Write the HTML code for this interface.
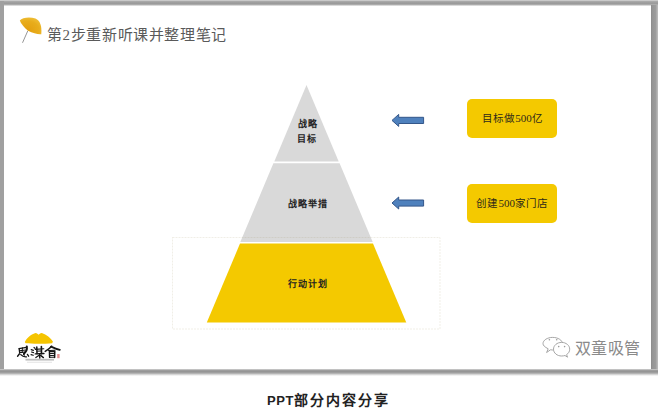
<!DOCTYPE html>
<html lang="zh-CN"><head><meta charset="utf-8">
<style>
html,body{margin:0;padding:0;background:#fff;width:658px;height:417px;overflow:hidden}
body{position:relative;font-family:"Liberation Sans",sans-serif}
.abs{position:absolute}
#frame-top{left:0;top:0;width:658px;height:6px;background:linear-gradient(#e4e4e4 0,#b0b0b0 1px,#a2a2a2 2px,#999 4px,#bdbdbd 5px,#f6f6f6 6px)}
#frame-left{left:0;top:1px;width:4px;height:371px;background:#a0a0a0}
#frame-right{left:651px;top:5px;width:7px;height:368px;background:linear-gradient(90deg,#8a8a8a 0,#959595 1.5px,#9c9c9c 4.5px,#b8b8b8 6.5px,#c4c4c4 7px)}
#frame-bottom{left:0;top:369px;width:658px;height:7px;background:linear-gradient(#d4d4d4 0,#9d9d9d 1.5px,#959595 2.5px,#a4a4a4 4px,#d6d6d6 5.5px,#fff 7px)}
#slide{left:4px;top:6px;width:647px;height:363px;background:#fff}
.title{left:47px;top:25.2px;font-family:"Liberation Serif",serif;font-size:15px;letter-spacing:0.6px;color:#5a5a5a;font-weight:300;white-space:nowrap;line-height:20px}
.lbl{font-family:"Liberation Serif",serif;font-size:9px;letter-spacing:1px;text-indent:1px;font-weight:bold;color:#222;white-space:nowrap;line-height:15px;text-align:center}
.box{left:467px;width:90px;height:39px;border-radius:5px;background:#f4c900;color:#2f2a1a;font-family:"Liberation Serif",serif;font-size:10.5px;letter-spacing:1.1px;text-indent:0.6px;line-height:39px;text-align:center;white-space:nowrap}
.cap{left:267px;top:390px;white-space:nowrap;font-weight:bold;font-size:14px;color:#222;line-height:20px}
.wm{left:574.5px;top:339px;font-size:16px;letter-spacing:0.6px;color:#8a8a8a;font-weight:300;line-height:20px;white-space:nowrap}
</style></head><body>
<div id="frame-top" class="abs"></div>
<div id="frame-left" class="abs"></div>
<div id="frame-right" class="abs"></div>
<div id="frame-bottom" class="abs"></div>
<div id="slide" class="abs"></div>

<svg class="abs" style="left:0;top:0" width="658" height="417" viewBox="0 0 658 417">
  <!-- ginkgo leaf -->
  <defs>
    <radialGradient id="lg" cx="0.35" cy="0.75" r="0.9">
      <stop offset="0" stop-color="#e39f0e"/>
      <stop offset="0.6" stop-color="#e8ad1c"/>
      <stop offset="1" stop-color="#f2c642"/>
    </radialGradient>
  </defs>
  <path d="M27.8 30.8 L22.5 42.8" stroke="#8a8a8a" stroke-width="0.9" fill="none"/>
  <path d="M19.8 20.5 C22 17.5 30 16.5 35.5 18.6 C40 20.5 42 26 41.3 34.2 C38 34.6 33 33.2 28 30.8 C24 27.5 21 23.5 19.8 20.5 Z" fill="url(#lg)"/>
  <!-- selection box -->
  <!-- pyramid -->
  <polygon points="306.5,85 338.7,161.4 274.3,161.4" fill="#d9d9d9"/>
  <polygon points="273.4,163.3 339.6,163.3 372.7,242.1 240.3,242.1" fill="#d9d9d9"/>
  <polygon points="240,243.6 373,243.6 406.3,322.6 206.8,322.6" fill="#f4c900"/>
  <rect x="172.5" y="237.5" width="267.5" height="91.5" fill="none" stroke="rgba(140,120,70,0.13)" stroke-width="1" stroke-dasharray="2 1"/>
  <!-- arrows -->
  <path d="M392 120.4 L398.7 114.4 L398.7 117.3 L423.6 117.3 L423.6 123.5 L398.7 123.5 L398.7 126.4 Z" fill="#4f81bd" stroke="#34578a" stroke-width="1"/>
  <path d="M392 203 L398.7 197 L398.7 200 L423.6 200 L423.6 206.1 L398.7 206.1 L398.7 209 Z" fill="#4f81bd" stroke="#34578a" stroke-width="1"/>
  <!-- logo -->
  <path d="M24.8 342 C26.5 338 30.5 334.5 35.5 332.9 C37 333 38 333.9 38.6 334.7 C39.2 333.9 40.2 333 41.8 332.9 C46.5 334.5 50.8 338 52.9 341.6 L52.2 343.2 C45 343.9 32 343.9 25.6 343.3 Z" fill="#f5c400"/>
  <rect x="57.2" y="354" width="2.4" height="4.2" fill="#d77" opacity="0.8"/>
  <rect x="25.5" y="358.8" width="28.5" height="1.8" fill="#8a8a8a" opacity="0.55"/><rect x="27" y="361.8" width="25" height="0.8" fill="#bbb" opacity="0.5"/>
  <!-- wechat icon -->
  <g fill="#fff" stroke="#9c9c9c" stroke-width="0.9">
    <path d="M546.6 352.5 L548.2 348.8 C544.6 347 543 345.3 543 343.7 C543 340.2 547.3 337.4 552.7 337.4 C558.1 337.4 562.4 340.2 562.4 343.7 C562.4 347.2 558.1 350 552.7 350 L550.5 349.8 Z"/>
    <path d="M567.5 357.2 L566.6 354.6 C568.6 353.3 569.7 351.4 569.7 349.2 C569.7 345.4 566.1 342.4 561.6 342.4 C557.1 342.4 553.5 345.4 553.5 349.2 C553.5 353 557.1 356 561.6 356 C562.8 356 564 355.8 565 355.5 Z"/>
  </g>
  <g fill="#9c9c9c">
    <circle cx="549.4" cy="339.8" r="0.8"/><circle cx="556.7" cy="339.8" r="0.8"/>
    <circle cx="558.7" cy="346.6" r="0.8"/><circle cx="564.6" cy="346.6" r="0.8"/>
  </g>
</svg>

<div class="abs title">第<span style="font-family:'Liberation Serif'">2</span>步重新听课并整理笔记</div>
<div class="abs lbl" style="left:287px;top:116.7px;width:40px">战略<br>目标</div>
<div class="abs lbl" style="left:277px;top:197px;width:60px">战略举措</div>
<div class="abs lbl" style="left:277px;top:277.3px;width:60px">行动计划</div>
<div class="abs box" style="top:98.5px">目标做<span style="font-family:'Liberation Serif';font-size:11px;letter-spacing:0">500</span>亿</div>
<div class="abs box" style="top:183.5px">创建<span style="font-family:'Liberation Serif';font-size:11px;letter-spacing:0">500</span>家门店</div>
<svg class="abs" style="left:0;top:0" width="80" height="417" viewBox="0 0 80 417">
  <g fill="none" stroke="#151515" stroke-linecap="round" stroke-linejoin="round">
    <!-- 思 -->
    <path d="M19 348.6 L26.5 347.3" stroke-width="1.3"/>
    <path d="M26.8 346.5 C27.2 349 26 352 24 353.6" stroke-width="2"/>
    <path d="M19.2 348.8 L19.6 352.4" stroke-width="1.3"/>
    <path d="M19.5 350.8 L25.5 350" stroke-width="1.1"/>
    <path d="M19.6 352.6 L25 352" stroke-width="1.1"/>
    <path d="M22.4 347.8 L22.2 352.5" stroke-width="1"/>
    <path d="M17.6 356.2 L19.5 353.8" stroke-width="1.4"/>
    <path d="M20.8 354.6 C22 356 24 357 26.5 356.8" stroke-width="1.3"/>
    <path d="M27.4 354.4 L28.6 356.2" stroke-width="1.3"/>
    <path d="M23.5 354.3 L24.3 355" stroke-width="1.2"/>
    <!-- 謀 -->
    <path d="M31.2 349.6 L33.4 350.4" stroke-width="1.2"/>
    <path d="M31.5 352 L33.6 352.6" stroke-width="1.1"/>
    <path d="M31 354.6 L33.3 355.3" stroke-width="1.1"/>
    <path d="M34 347.5 L35 348.3" stroke-width="1.2"/>
    <path d="M35.3 349.4 L43.8 348.8" stroke-width="1.1"/>
    <path d="M36.8 347 L37 353.8" stroke-width="1.5"/>
    <path d="M41.4 346.6 L41.5 353.8" stroke-width="1.6"/>
    <path d="M37 351.2 L41.3 351" stroke-width="1"/>
    <path d="M35.2 353.9 L44 353.5" stroke-width="1.3"/>
    <path d="M39.6 354 L39.8 358" stroke-width="1.4"/>
    <path d="M38.8 355.4 L35.8 357.5" stroke-width="1.2"/>
    <path d="M40.6 355.4 L43.4 357.6" stroke-width="1.4"/>
    <!-- 會 -->
    <path d="M45.2 351.4 C47.5 350 50 348.2 51.6 346.2" stroke-width="1.5"/>
    <path d="M51 346.6 C54 348 57 349.2 59.8 349.8" stroke-width="1.8"/>
    <path d="M48.4 350.6 L55 350.2" stroke-width="1"/>
    <path d="M49.4 351.6 L49.6 357.4" stroke-width="1.4"/>
    <path d="M49.6 351.6 L54.8 351.2 L54.6 357.4" stroke-width="1.5"/>
    <path d="M49.6 353.6 L54.6 353.4" stroke-width="1"/>
    <path d="M49.6 355.6 L54.6 355.4" stroke-width="1"/>
    <path d="M49.6 357.3 L54.6 357.2" stroke-width="1"/>
  </g>
</svg>
<div class="abs wm">双童吸管</div>
<div class="abs cap"><span style="font-size:13px;letter-spacing:0.6px">PPT</span><span style="letter-spacing:2px">部分内容分享</span></div>
</body></html>
